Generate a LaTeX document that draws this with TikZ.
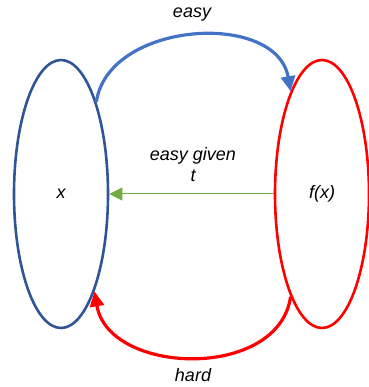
\documentclass[tikz,border=0pt]{standalone}
\usepackage{fontspec}
\setmainfont{Liberation Sans}
\usepackage{tikz}
\usetikzlibrary{arrows.meta,shapes.geometric}
\definecolor{setblue}{HTML}{2F5597}
\definecolor{easyblue}{HTML}{4472C4}
\definecolor{hardred}{HTML}{FF0000}
\definecolor{trapgreen}{HTML}{70AD47}

\begin{document}
\begin{tikzpicture}[x=1pt,y=1pt,
  set/.style={ellipse,line width=2.6pt,minimum width=94pt,minimum height=268pt,
              inner sep=0pt,font=\fontsize{18}{21}\selectfont\itshape},
  arc/.style={line width=3.2pt,-{Triangle[length=15pt,width=14pt]}},
  lab/.style={font=\fontsize{18}{21}\selectfont\itshape}
]
\useasboundingbox (0,0) rectangle (368,387);
\node[set,draw=setblue] (x) at (61,193) {x};
\node[set,draw=hardred] (fx) at (322,193) {f(x)};
% easy direction
\draw[arc,easyblue] (x.69) .. controls +(12,81) and +(-14,81) .. (fx.107);
\node[lab] (easy) at (192,372) {easy};
% trapdoor
\draw[trapgreen,line width=1pt,-{Triangle[length=13pt,width=13pt]}] (fx.west) -- (x.east);
\node[lab,align=center] (given) at (193,222) {easy given\\t};
% hard direction
\draw[arc,hardred] (fx.253) .. controls +(-12,-84) and +(14,-84) .. (x.289);
\node[lab] (hard) at (193,12) {hard};
\end{tikzpicture}
\end{document}
